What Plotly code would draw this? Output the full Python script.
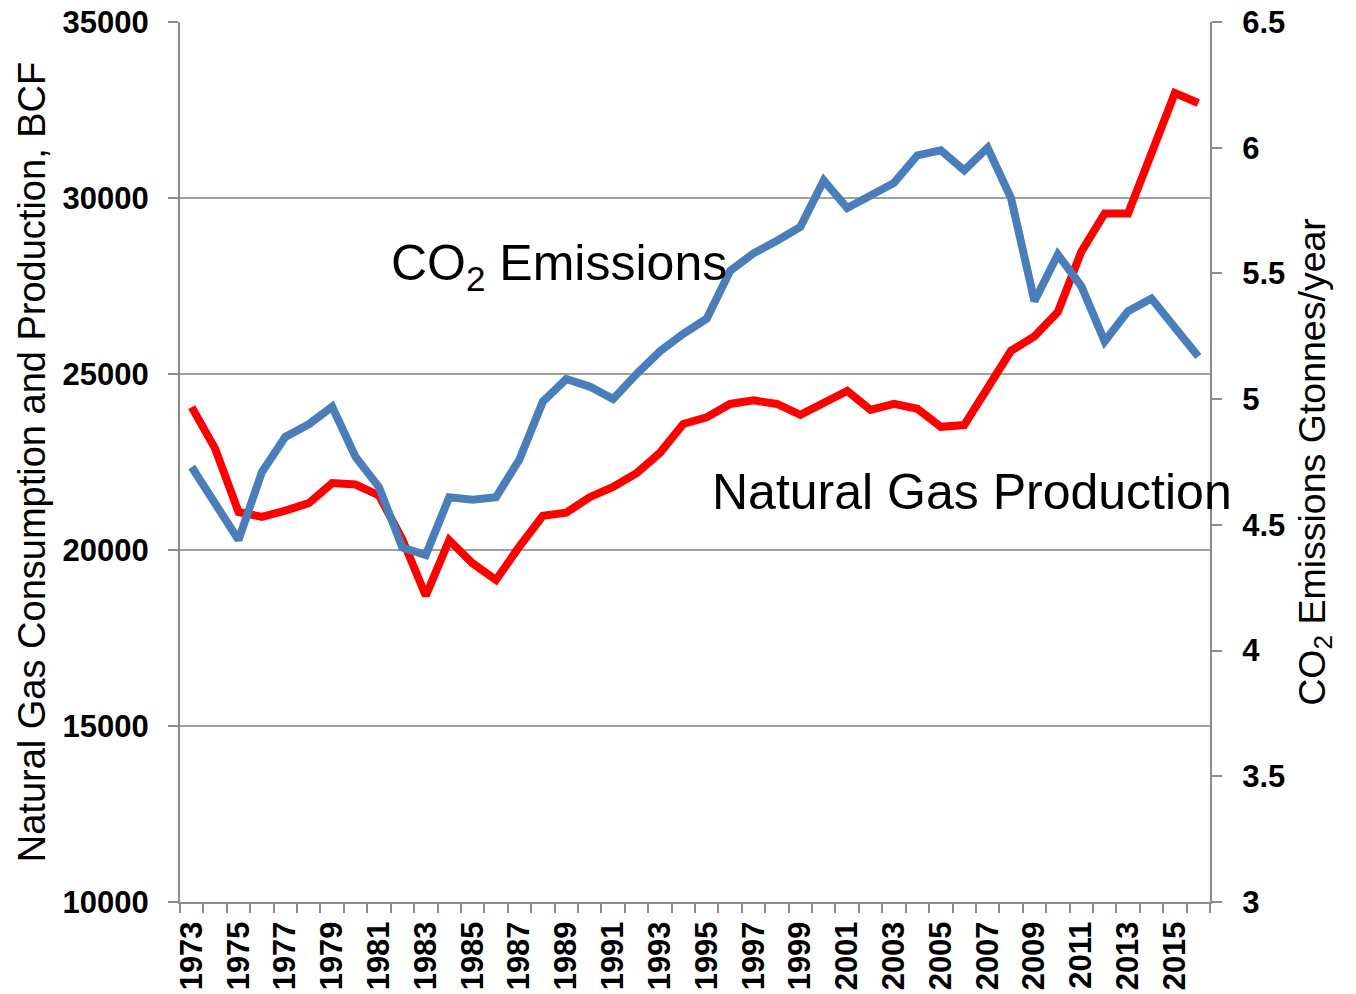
import plotly.graph_objects as go

# Years on the category axis
years = list(range(1973, 2017))

# Natural gas production, BCF (left axis)
gas_production = [
    24060, 22880, 21080, 20940, 21120, 21330, 21900, 21860, 21550, 20300,
    18700, 20280, 19620, 19150, 20100, 20970, 21060, 21500, 21790, 22180,
    22760, 23580, 23770, 24150, 24250, 24150, 23840, 24190, 24520, 23980,
    24150, 24010, 23500, 23550, 24620, 25660, 26070, 26760, 28470, 29560,
    29560, 31280, 32980, 32700,
]

# CO2 emissions, Gtonnes/year (right axis)
co2_emissions = [
    4.73, 4.58, 4.44, 4.71, 4.85, 4.90, 4.97, 4.77, 4.65, 4.41,
    4.38, 4.61, 4.60, 4.61, 4.76, 4.99, 5.08, 5.05, 5.00, 5.10,
    5.19, 5.26, 5.32, 5.51, 5.58, 5.63, 5.685, 5.87, 5.76, 5.81,
    5.86, 5.97, 5.99, 5.91, 6.00, 5.80, 5.39, 5.575, 5.45, 5.23,
    5.35, 5.40, 5.28, 5.17,
]

label_years = years[::2]
left_ticks = [10000, 15000, 20000, 25000, 30000, 35000]
right_ticks = [3, 3.5, 4, 4.5, 5, 5.5, 6, 6.5]
right_labels = ["3", "3.5", "4", "4.5", "5", "5.5", "6", "6.5"]

FONT = "Liberation Sans, Arial, sans-serif"
AXIS_GRAY = "#8c8c8c"

fig = go.Figure()

fig.add_trace(go.Scatter(
    x=years,
    y=gas_production,
    mode="lines",
    name="Natural Gas Production",
    line=dict(color="#ff0000", width=8),
))

fig.add_trace(go.Scatter(
    x=years,
    y=co2_emissions,
    mode="lines",
    name="CO2 Emissions",
    line=dict(color="#4a7ebb", width=8),
    yaxis="y2",
))

fig.add_annotation(
    text="CO<sub>2</sub> Emissions",
    x=1981.42, y=28065, xref="x", yref="y",
    xanchor="left", yanchor="middle",
    showarrow=False,
    font=dict(family=FONT, size=50, color="black"),
)
fig.add_annotation(
    text="Natural Gas Production",
    x=1995.13, y=21650, xref="x", yref="y",
    xanchor="left", yanchor="middle",
    showarrow=False,
    font=dict(family=FONT, size=50, color="black"),
)

# page body adds an 8px offset, so the figure is 8px smaller than the window
fig.update_layout(
    width=1348,
    height=986,
    margin=dict(l=172, r=146, t=14, b=92),
    plot_bgcolor="white",
    paper_bgcolor="white",
    showlegend=False,
    font=dict(family=FONT, color="black"),
    xaxis=dict(
        range=[1972.5, 2016.5],
        tickvals=label_years,
        ticktext=[str(y) for y in label_years],
        tickangle=-90,
        ticks="",
        tickfont=dict(family=FONT, size=31, weight="bold", color="black"),
        showgrid=False,
        showline=True,
        linecolor=AXIS_GRAY,
        linewidth=2,
        zeroline=False,
        automargin=False,
        ticklabelstandoff=5,
        ticklabeloverflow="allow",
        minor=dict(
            tickvals=[y - 0.5 for y in years] + [2016.5],
            ticks="outside",
            ticklen=9,
            tickcolor=AXIS_GRAY,
            tickwidth=2,
            showgrid=False,
        ),
    ),
    yaxis=dict(
        range=[10000, 35000],
        tickvals=left_ticks,
        ticktext=[str(v) for v in left_ticks],
        ticks="outside",
        ticklen=10,
        tickwidth=2,
        tickcolor=AXIS_GRAY,
        tickfont=dict(family=FONT, size=31, weight="bold", color="black"),
        showgrid=True,
        gridcolor="#a0a0a0",
        gridwidth=2,
        showline=True,
        linecolor=AXIS_GRAY,
        linewidth=2,
        zeroline=False,
        automargin=False,
        ticklabelstandoff=13,
        ticklabeloverflow="allow",
        title=dict(
            text="Natural Gas Consumption and Production, BCF",
            font=dict(family=FONT, size=38, color="black"),
            standoff=5,
        ),
    ),
    yaxis2=dict(
        range=[3, 6.5],
        tickvals=right_ticks,
        ticktext=right_labels,
        overlaying="y",
        side="right",
        ticks="outside",
        ticklen=10,
        tickwidth=2,
        tickcolor=AXIS_GRAY,
        tickfont=dict(family=FONT, size=31, weight="bold", color="black"),
        showgrid=False,
        showline=True,
        linecolor=AXIS_GRAY,
        linewidth=2,
        zeroline=False,
        automargin=False,
        ticklabelstandoff=14,
        ticklabeloverflow="allow",
        title=dict(
            text="CO<sub>2</sub> Emissions Gtonnes/year",
            font=dict(family=FONT, size=37.5, color="black"),
            standoff=14,
        ),
    ),
)

fig.write_html("out.html")
